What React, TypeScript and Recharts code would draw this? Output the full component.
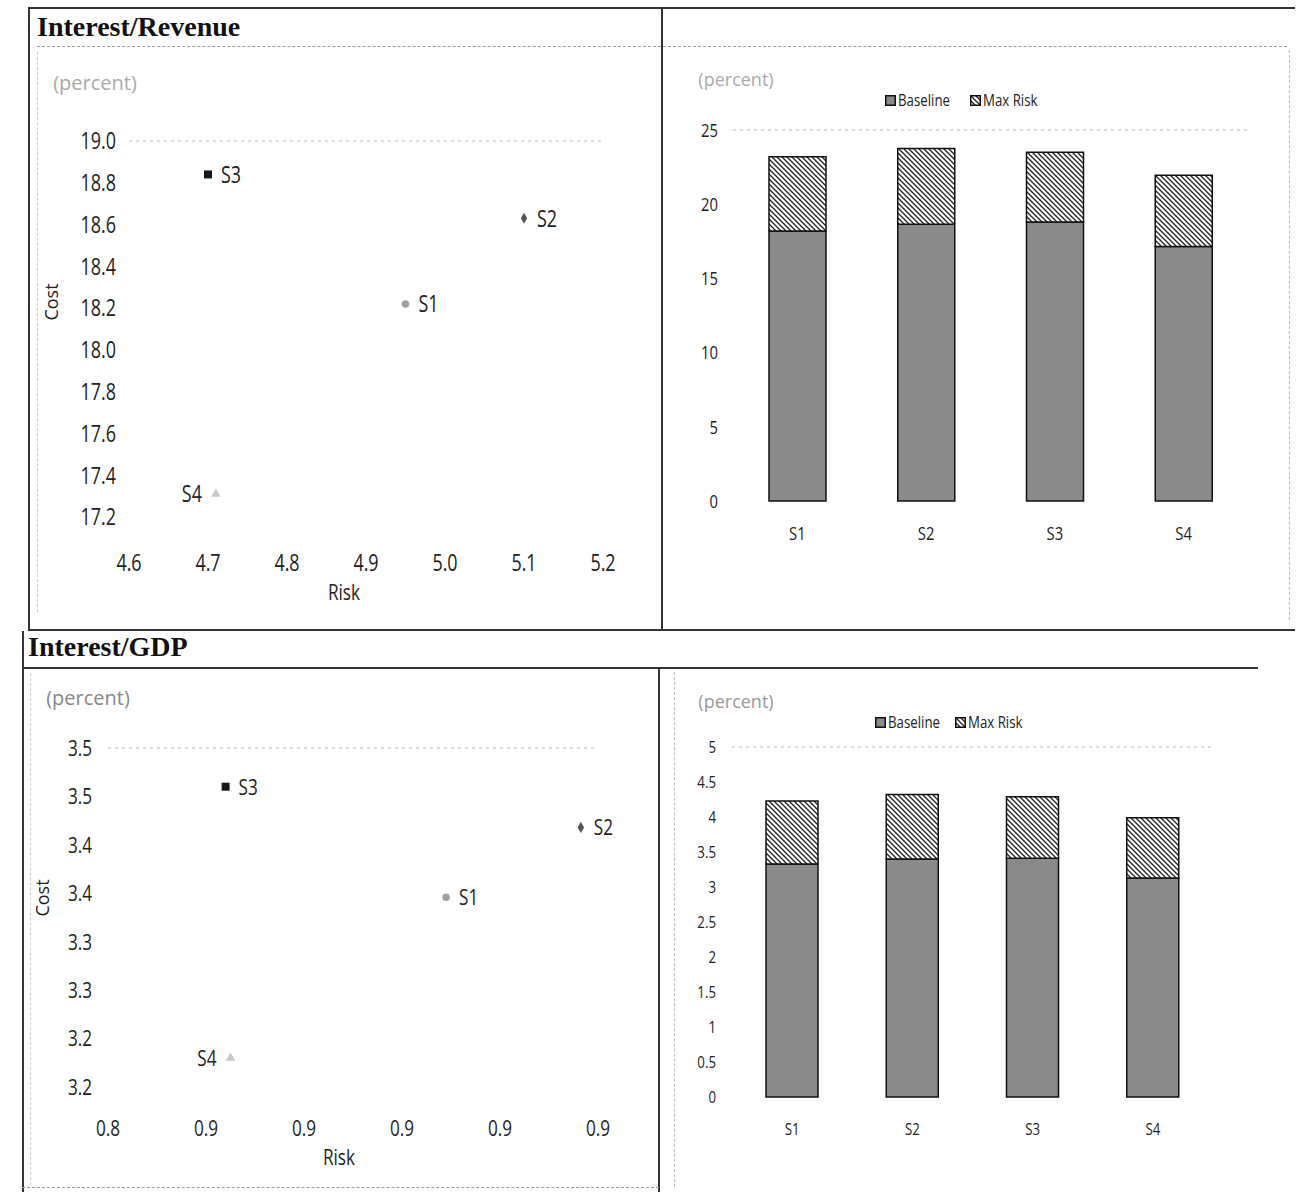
import React from 'react';
import {
  ScatterChart,
  Scatter,
  BarChart,
  Bar,
  XAxis,
  YAxis,
  Symbols,
  ReferenceLine
} from 'recharts';

const scenarios = ['S1', 'S2', 'S3', 'S4'];

// Interest/Revenue
const revRisk = [4.95, 5.1, 4.7, 4.71];
const revCost = [18.22, 18.63, 18.84, 17.31];
const revRiskTicks = [4.6, 4.7, 4.8, 4.9, 5.0, 5.1, 5.2];
const revCostTicks = [17.2, 17.4, 17.6, 17.8, 18.0, 18.2, 18.4, 18.6, 18.8, 19.0];
const revBaseline = [18.2, 18.65, 18.8, 17.15];
const revMaxRisk = [5.0, 5.1, 4.7, 4.8];
const revBarTicks = [0, 5, 10, 15, 20, 25];

// Interest/GDP
const gdpRisk = [0.909, 0.9365, 0.864, 0.865];
const gdpCost = [3.346, 3.418, 3.46, 3.18];
const gdpRiskTicks = [0.84, 0.86, 0.88, 0.9, 0.92, 0.94];
const gdpRiskLabels = ['0.8', '0.9', '0.9', '0.9', '0.9', '0.9'];
const gdpCostTicks = [3.15, 3.2, 3.25, 3.3, 3.35, 3.4, 3.45, 3.5];
const gdpCostLabels = ['3.2', '3.2', '3.3', '3.3', '3.4', '3.4', '3.5', '3.5'];
const gdpBaseline = [3.33, 3.4, 3.41, 3.13];
const gdpMaxRisk = [0.9, 0.92, 0.88, 0.86];
const gdpBarTicks = [0, 0.5, 1, 1.5, 2, 2.5, 3, 3.5, 4, 4.5, 5];

const markerShapes = ['circle', 'diamond', 'square', 'triangle'] as const;
const markerSizes = [45, 36, 64, 40];
const markerColors = ['#a0a0a0', '#555', '#1a1a1a', '#c8c8c8'];
const labelSides = ['right', 'right', 'right', 'left'];

const SANS = "'Open Sans', 'Noto Sans', sans-serif";
const SQUEEZE = 0.78; // the scan uses a condensed face
const BAR_GRAY = '#8a8a8a';

// condensed svg text
const CondText: React.FC<{
  x: number;
  y: number;
  size: number;
  anchor: 'start' | 'middle' | 'end';
  dy: string;
  children: React.ReactNode;
}> = ({ x, y, size, anchor, dy, children }) => (
  <g transform={`translate(${x},${y}) scale(${SQUEEZE},1)`}>
    <text x={0} y={0} dy={dy} textAnchor={anchor} fontSize={size} fill="#222" fontFamily={SANS}>
      {children}
    </text>
  </g>
);

const makeTick =
  (size: number, side: 'left' | 'bottom', fmt: (v: any, i: number) => string) =>
  (props: any) =>
    (
      <CondText
        x={props.x}
        y={props.y}
        size={size}
        anchor={side === 'left' ? 'end' : 'middle'}
        dy={side === 'left' ? '0.36em' : '0.72em'}
      >
        {fmt(props.payload.value, props.index)}
      </CondText>
    );

type ScatterProps = {
  left: number;
  top: number;
  width: number;
  height: number;
  margin: { top: number; right: number; bottom: number; left: number };
  yAxisWidth: number;
  xAxisHeight: number;
  risk: number[];
  cost: number[];
  xTicks: number[];
  yTicks: number[];
  xLabels?: string[];
  yLabels?: string[];
  fontSize: number;
  xTickMargin: number;
  yTickMargin: number;
};

const RiskCostScatter: React.FC<ScatterProps> = (p) => {
  const xFmt = (v: number, i: number) => (p.xLabels ? p.xLabels[i] : v.toFixed(1));
  const yFmt = (v: number, i: number) => (p.yLabels ? p.yLabels[i] : v.toFixed(1));
  return (
    <div style={{ position: 'absolute', left: p.left, top: p.top }}>
      <ScatterChart width={p.width} height={p.height} margin={p.margin}>
        <XAxis
          type="number"
          dataKey="x"
          domain={[p.xTicks[0], p.xTicks[p.xTicks.length - 1]]}
          ticks={p.xTicks}
          interval={0}
          height={p.xAxisHeight}
          axisLine={false}
          tickLine={false}
          tickMargin={p.xTickMargin}
          tick={makeTick(p.fontSize, 'bottom', xFmt)}
        />
        <YAxis
          type="number"
          dataKey="y"
          domain={[p.yTicks[0], p.yTicks[p.yTicks.length - 1]]}
          ticks={p.yTicks}
          interval={0}
          width={p.yAxisWidth}
          axisLine={false}
          tickLine={false}
          tickMargin={p.yTickMargin}
          tick={makeTick(p.fontSize, 'left', yFmt)}
        />
        <ReferenceLine
          y={p.yTicks[p.yTicks.length - 1]}
          stroke="#bbb"
          strokeDasharray="3 4"
        />
        {scenarios.map((s, i) => (
          <Scatter
            key={s}
            name={s}
            data={[{ x: p.risk[i], y: p.cost[i], name: s }]}
            isAnimationActive={false}
            shape={(sp: any) => {
              const left = labelSides[i] === 'left';
              return (
                <g>
                  <Symbols
                    cx={sp.cx}
                    cy={sp.cy}
                    type={markerShapes[i]}
                    size={markerSizes[i]}
                    fill={markerColors[i]}
                  />
                  <CondText
                    x={left ? sp.cx - 14 : sp.cx + 13}
                    y={sp.cy}
                    size={p.fontSize}
                    anchor={left ? 'end' : 'start'}
                    dy="0.36em"
                  >
                    {s}
                  </CondText>
                </g>
              );
            }}
          />
        ))}
      </ScatterChart>
    </div>
  );
};

type BarProps = {
  id: string;
  left: number;
  top: number;
  width: number;
  height: number;
  margin: { top: number; right: number; bottom: number; left: number };
  yAxisWidth: number;
  xAxisHeight: number;
  baseline: number[];
  maxRisk: number[];
  yTicks: number[];
  barSize: number;
  fontSize: number;
  xTickMargin: number;
  yTickMargin: number;
};

const HatchPattern: React.FC<{ id: string }> = ({ id }) => (
  <pattern id={id} patternUnits="userSpaceOnUse" width={5} height={5}>
    <rect width={5} height={5} fill="#fff" />
    <path d="M-1,-1 L6,6 M-1,4 L1,6 M4,-1 L6,1" stroke="#222" strokeWidth={1.3} />
  </pattern>
);

const StackedBars: React.FC<BarProps> = (p) => {
  const data = scenarios.map((s, i) => ({
    name: s,
    baseline: p.baseline[i],
    maxRisk: p.maxRisk[i]
  }));
  const top = p.yTicks[p.yTicks.length - 1];
  return (
    <div style={{ position: 'absolute', left: p.left, top: p.top }}>
      <BarChart
        width={p.width}
        height={p.height}
        data={data}
        margin={p.margin}
        barSize={p.barSize}
      >
        <defs>
          <HatchPattern id={p.id} />
        </defs>
        <XAxis
          dataKey="name"
          height={p.xAxisHeight}
          axisLine={false}
          tickLine={false}
          tickMargin={p.xTickMargin}
          tick={makeTick(p.fontSize, 'bottom', (v) => String(v))}
        />
        <YAxis
          type="number"
          domain={[0, top]}
          ticks={p.yTicks}
          interval={0}
          width={p.yAxisWidth}
          axisLine={false}
          tickLine={false}
          tickMargin={p.yTickMargin}
          tick={makeTick(p.fontSize, 'left', (v) => String(v))}
        />
        <ReferenceLine y={top} stroke="#bbb" strokeDasharray="3 4" />
        <Bar
          dataKey="baseline"
          stackId="a"
          fill={BAR_GRAY}
          stroke="#111"
          strokeWidth={1.5}
          isAnimationActive={false}
        />
        <Bar
          dataKey="maxRisk"
          stackId="a"
          fill={`url(#${p.id})`}
          stroke="#111"
          strokeWidth={1.5}
          isAnimationActive={false}
        />
      </BarChart>
    </div>
  );
};

const Squeezed: React.FC<{ size: number; children: React.ReactNode }> = ({ size, children }) => (
  <span
    style={{
      display: 'inline-block',
      fontSize: size,
      fontFamily: SANS,
      transform: `scaleX(${SQUEEZE})`,
      transformOrigin: 'left center'
    }}
  >
    {children}
  </span>
);

const Legend: React.FC<{ left: number; top: number; id: string; gap: number }> = ({ left, top, id, gap }) => (
  <div
    style={{
      position: 'absolute',
      left,
      top,
      width: 200,
      height: 18,
      color: '#222',
      lineHeight: '18px'
    }}
  >
    <svg width={11} height={11} style={{ position: 'absolute', left: 0, top: 4 }}>
      <rect x={0.75} y={0.75} width={9.5} height={9.5} fill={BAR_GRAY} stroke="#111" strokeWidth={1.5} />
    </svg>
    <div style={{ position: 'absolute', left: 13, top: 0 }}>
      <Squeezed size={17}>Baseline</Squeezed>
    </div>
    <svg width={11} height={11} style={{ position: 'absolute', left: gap, top: 4 }}>
      <defs>
        <HatchPattern id={id} />
      </defs>
      <rect x={0.75} y={0.75} width={9.5} height={9.5} fill={`url(#${id})`} stroke="#111" strokeWidth={1.5} />
    </svg>
    <div style={{ position: 'absolute', left: gap + 13, top: 0 }}>
      <Squeezed size={17}>Max Risk</Squeezed>
    </div>
  </div>
);

const Txt: React.FC<{
  x: number;
  y: number;
  size: number;
  color?: string;
  rotate?: boolean;
  squeeze?: boolean;
  children: React.ReactNode;
}> = ({ x, y, size, color = '#222', rotate, squeeze, children }) => (
  <div
    style={{
      position: 'absolute',
      left: x,
      top: y,
      transform: `translate(-50%, -50%)${rotate ? ' rotate(-90deg)' : ''}${squeeze ? ` scaleX(${SQUEEZE})` : ''}`,
      fontSize: size,
      color,
      fontFamily: SANS,
      lineHeight: 1,
      whiteSpace: 'nowrap'
    }}
  >
    {children}
  </div>
);

const Rule: React.FC<{ x: number; y: number; w: number; h: number; color?: string; dashed?: boolean }> = ({
  x,
  y,
  w,
  h,
  color = '#333',
  dashed
}) => (
  <div
    style={{
      position: 'absolute',
      left: x,
      top: y,
      width: w,
      height: h,
      background: dashed ? undefined : color,
      borderTop: dashed && w > h ? `1px dashed ${color}` : undefined,
      borderLeft: dashed && h > w ? `1px dashed ${color}` : undefined,
      boxSizing: 'border-box'
    }}
  />
);

const titleStyle: React.CSSProperties = {
  position: 'absolute',
  fontFamily: "'Liberation Serif', 'DejaVu Serif', serif",
  fontWeight: 700,
  fontSize: 28,
  color: '#111',
  lineHeight: 1
};

export default function App() {
  return (
    <div
      style={{
        position: 'absolute',
        left: 0,
        top: 0,
        width: 1300,
        height: 1192,
        background: '#fff',
        overflow: 'hidden'
      }}
    >
      {/* frame */}
      <Rule x={28} y={7} w={1267} h={2} />
      <Rule x={28} y={7} w={2} h={624} />
      <Rule x={661} y={7} w={2} h={624} />
      <Rule x={28} y={629} w={1267} h={2} />
      <Rule x={1289} y={50} w={1} h={570} color="#bbb" dashed />
      <Rule x={37} y={46} w={1250} h={1} color="#999" dashed />
      <Rule x={37} y={52} w={1} h={560} color="#ccc" dashed />
      <Rule x={22} y={631} w={2} h={561} />
      <Rule x={22} y={667} w={1236} h={2} />
      <Rule x={658} y={668} w={2} h={524} />
      <Rule x={674} y={672} w={1} h={515} color="#bbb" dashed />
      <Rule x={30} y={673} w={1} h={512} color="#ccc" dashed />
      <Rule x={22} y={1187} w={637} h={1} color="#999" dashed />

      <div style={{ ...titleStyle, left: 37, top: 13 }}>Interest/Revenue</div>
      <div style={{ ...titleStyle, left: 28, top: 633 }}>Interest/GDP</div>

      {/* Interest/Revenue scatter */}
      <RiskCostScatter
        left={30}
        top={40}
        width={630}
        height={585}
        margin={{ top: 101, right: 57, bottom: 8, left: 0 }}
        yAxisWidth={99}
        xAxisHeight={100}
        risk={revRisk}
        cost={revCost}
        xTicks={revRiskTicks}
        yTicks={revCostTicks}
        fontSize={23}
        xTickMargin={31}
        yTickMargin={7}
      />
      <Txt x={95} y={83} size={20} color="#aaa">(percent)</Txt>
      <Txt x={51} y={302} size={18} rotate>Cost</Txt>
      <Txt x={344} y={591} size={22} squeeze>Risk</Txt>

      {/* Interest/Revenue bars */}
      <StackedBars
        id="hatchRev"
        left={665}
        top={40}
        width={625}
        height={585}
        margin={{ top: 90, right: 42, bottom: 64, left: 0 }}
        yAxisWidth={68}
        xAxisHeight={60}
        baseline={revBaseline}
        maxRisk={revMaxRisk}
        yTicks={revBarTicks}
        barSize={57}
        fontSize={19}
        xTickMargin={19}
        yTickMargin={9}
      />
      <Txt x={736} y={79} size={18} color="#aaa">(percent)</Txt>
      <Legend left={885} top={91} id="hatchRevLeg" gap={85} />

      {/* Interest/GDP scatter */}
      <RiskCostScatter
        left={25}
        top={672}
        width={630}
        height={515}
        margin={{ top: 76, right: 57, bottom: 10, left: 0 }}
        yAxisWidth={83}
        xAxisHeight={90}
        risk={gdpRisk}
        cost={gdpCost}
        xTicks={gdpRiskTicks}
        yTicks={gdpCostTicks}
        xLabels={gdpRiskLabels}
        yLabels={gdpCostLabels}
        fontSize={22}
        xTickMargin={27}
        yTickMargin={10}
      />
      <Txt x={88} y={698} size={20} color="#888">(percent)</Txt>
      <Txt x={42} y={898} size={18} rotate>Cost</Txt>
      <Txt x={339} y={1156} size={22} squeeze>Risk</Txt>

      {/* Interest/GDP bars */}
      <StackedBars
        id="hatchGdp"
        left={670}
        top={672}
        width={620}
        height={515}
        margin={{ top: 75, right: 77, bottom: 40, left: 0 }}
        yAxisWidth={62}
        xAxisHeight={50}
        baseline={gdpBaseline}
        maxRisk={gdpMaxRisk}
        yTicks={gdpBarTicks}
        barSize={52}
        fontSize={17}
        xTickMargin={20}
        yTickMargin={10}
      />
      <Txt x={736} y={701} size={18} color="#999">(percent)</Txt>
      <Legend left={875} top={713} id="hatchGdpLeg" gap={80} />
    </div>
  );
}
